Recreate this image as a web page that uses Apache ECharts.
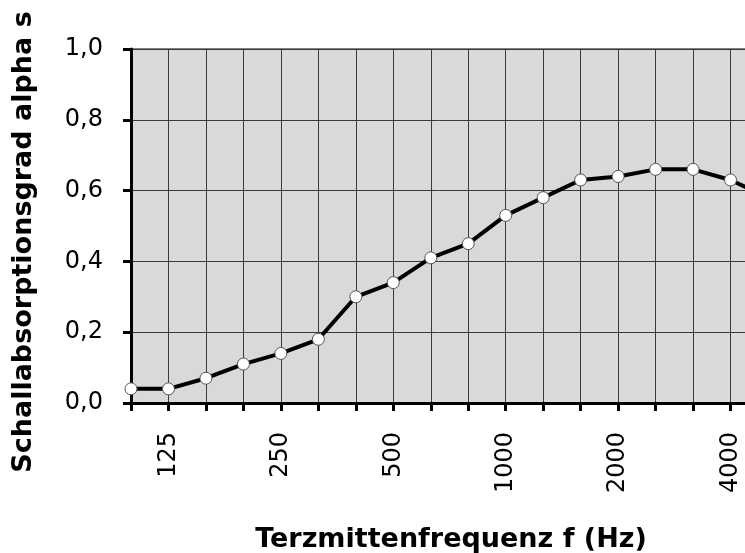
<!DOCTYPE html>
<html>
<head>
<meta charset="utf-8">
<script src="https://cdn.jsdelivr.net/npm/echarts@6/dist/echarts.min.js"></script>
<style>
html,body{margin:0;padding:0;background:#fff;}
#chart{width:745px;height:553px;}
</style>
</head>
<body>
<div id="chart"></div>
<script>
var categories = ['100','125','160','200','250','315','400','500','630','800','1000','1250','1600','2000','2500','3150','4000','5000'];
var alphaValues = [0.04,0.04,0.07,0.11,0.14,0.18,0.30,0.34,0.41,0.45,0.53,0.58,0.63,0.64,0.66,0.66,0.63,0.58];
var yTicks = [0,0.2,0.4,0.6,0.8,1.0];
var xTitle = 'Terzmittenfrequenz f (Hz)';
var yTitle = 'Schallabsorptionsgrad alpha s';

var chart = echarts.init(document.getElementById('chart'), null, {renderer:'canvas'});
var font = 'DejaVu Sans';
chart.setOption({
  animation:false,
  backgroundColor:'#ffffff',
  grid:{left:131, top:49, width:637, height:354, outerBoundsMode:'none', containLabel:false, show:true, backgroundColor:'#d9d9d9', borderColor:'#000', borderWidth:1},
  xAxis:{
    type:'category', data:categories, boundaryGap:false,
    axisLine:{show:true, lineStyle:{color:'#000', width:3}},
    axisTick:{show:true, interval:0, length:8, lineStyle:{color:'#000', width:3}},
    axisLabel:{interval:function(i){return i%3===1;}, rotate:90, margin:29, color:'#000', fontFamily:font, fontSize:24},
    splitLine:{show:true, interval:0, lineStyle:{color:'#3a3a3a', width:1}}
  },
  yAxis:{
    type:'value', min:yTicks[0], max:yTicks[yTicks.length-1], interval:0.2,
    axisLine:{show:true, lineStyle:{color:'#000', width:3}},
    axisTick:{show:true, length:8, lineStyle:{color:'#000', width:3}},
    axisLabel:{margin:28, color:'#000', fontFamily:font, fontSize:24, formatter:function(v){return v.toFixed(1).replace('.',',');}},
    splitLine:{show:true, lineStyle:{color:'#3a3a3a', width:1}}
  },
  graphic:[
    {type:'text', position:[451,540], style:{text:xTitle, fontFamily:font, fontWeight:'bold', fontSize:27, fill:'#000', textAlign:'center', textVerticalAlign:'middle'}},
    {type:'text', rotation:Math.PI/2, position:[24,242], style:{text:yTitle, fontFamily:font, fontWeight:'bold', fontSize:27, fill:'#000', textAlign:'center', textVerticalAlign:'middle'}}
  ],
  series:[{
    type:'line', data:alphaValues,
    lineStyle:{color:'#000', width:4},
    symbol:'circle', symbolSize:12, showAllSymbol:true,
    itemStyle:{color:'#fff', borderColor:'#555', borderWidth:1},
    z:5
  }]
});
</script>
</body>
</html>
